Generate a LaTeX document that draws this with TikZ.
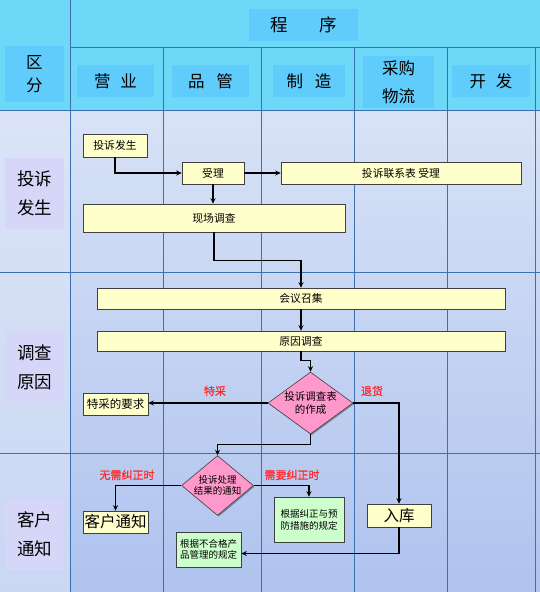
\documentclass[tikz,border=0pt]{standalone}
\usepackage{fontspec}
\newfontfamily\cjk{Noto Sans CJK SC}
\newfontfamily\cjkb[FakeBold=1]{Noto Sans CJK SC}
\usetikzlibrary{shapes.geometric,arrows.meta,shadows}
\definecolor{hdrbg}{HTML}{6ED8F8}
\definecolor{hdrbox}{HTML}{60CCFC}
\definecolor{gridc}{HTML}{3D70B0}
\definecolor{lavbox}{HTML}{D6D6F8}
\definecolor{ybg}{HTML}{FFFFCC}
\definecolor{gbg}{HTML}{CCFFCC}
\definecolor{pinkc}{HTML}{FF99CC}
\definecolor{redlbl}{HTML}{FF2A2A}
\definecolor{bodytop}{HTML}{D8E2F7}
\definecolor{bodybot}{HTML}{AFC3EE}
\definecolor{leftcol}{HTML}{DDE5F7}
\tikzset{
  fsz/.style={font=\cjk\fontsize{#1}{#1}\selectfont},
  hbox/.style={fill=hdrbox, inner sep=0, align=center, fsz=16.5},
  lbox/.style={fill=lavbox, inner sep=0, align=center, minimum width=59pt, minimum height=71pt, font=\cjk\fontsize{17.5}{29}\selectfont},
  boxbase/.style={draw=black!75, line width=0.6pt, inner sep=0, align=center,
    drop shadow={shadow xshift=1.2pt, shadow yshift=-1.2pt, fill=black, opacity=0.35}},
  ybox/.style={boxbase, fill=ybg, fsz=10.8},
  gbox/.style={boxbase, fill=gbg},
  dbox/.style={boxbase, diamond, fill=pinkc},
  gline/.style={draw=gridc, line width=0.8pt},
  conn/.style={draw=black, line width=1.1pt, -{Stealth[length=5.5pt,width=5pt]}},
  rlbl/.style={text=redlbl, font=\cjkb\fontsize{11}{12}\selectfont, inner sep=0},
}
\begin{document}
\begin{tikzpicture}[x=1pt,y=-1pt]
\useasboundingbox (0,0) rectangle (540,592);
% backgrounds
\fill[hdrbg] (0,0) rectangle (540,110);
\shade[top color=bodytop, bottom color=bodybot] (0,110) rectangle (540,592);
\fill[leftcol, opacity=0.6] (0,110) rectangle (70,592);
% grid
\draw[gline] (70,0) -- (70,592);
\draw[gline] (70,47) -- (540,47);
\draw[gline] (0,110) -- (540,110);
\foreach \x in {163,261,354,447,535} \draw[gline] (\x,47) -- (\x,592);
\draw[gline] (0,272) -- (540,272);
\draw[gline] (0,453) -- (540,453);
% header boxes
\node[hbox, minimum width=59pt, minimum height=56pt, font=\cjk\fontsize{16.5}{23.5}\selectfont] (hqf) at (34.5,74) {区\\分};
\node[hbox, minimum width=109pt, minimum height=32pt, fsz=17.5] (hcx) at (303.5,25) {程\hspace{1.8em}序};
\node[hbox, minimum width=77pt, minimum height=32pt] (hyy) at (115.5,81) {营\hspace{0.6em}业};
\node[hbox, minimum width=77pt, minimum height=32pt] (hpg) at (210.5,81) {品\hspace{0.7em}管};
\node[hbox, minimum width=72pt, minimum height=32pt] (hzz) at (309,81) {制\hspace{0.7em}造};
\node[hbox, minimum width=71pt, minimum height=52pt, font=\cjk\fontsize{16.5}{28}\selectfont] (hcg) at (398.5,82) {采购\\物流};
\node[hbox, minimum width=78pt, minimum height=32pt] (hkf) at (491,81) {开\hspace{0.6em}发};
% left labels
\node[lbox] (l1) at (34.5,193.5) {投诉\\发生};
\node[lbox] (l2) at (34.5,367.5) {调查\\原因};
\node[lbox] (l3) at (34.5,534) {客户\\通知};
% flow nodes
\node[ybox, minimum width=64pt, minimum height=23pt] (fs) at (115,145.5) {投诉发生};
\node[ybox, minimum width=62pt, minimum height=22pt] (sl) at (213,173) {受理};
\node[ybox, minimum width=240pt, minimum height=22pt] (lxb) at (401,173) {投诉联系表\ 受理};
\node[ybox, minimum width=262pt, minimum height=28pt] (xc) at (214,218) {现场调查};
\node[ybox, minimum width=408pt, minimum height=21pt] (hy) at (301,298.5) {会议召集};
\node[ybox, minimum width=408pt, minimum height=20pt] (yy) at (301,341) {原因调查};
\node[dbox, minimum width=85pt, minimum height=62pt, aspect=1.37, font=\cjk\fontsize{10.5}{12.5}\selectfont] (d1) at (310.5,403) {投诉调查表\\的作成};
\node[ybox, minimum width=65pt, minimum height=22pt, fsz=11.5] (tc) at (115.5,404) {特采的要求};
\node[dbox, minimum width=69pt, minimum height=58pt, aspect=1.2, font=\cjk\fontsize{9.5}{11.5}\selectfont] (d2) at (217.5,485.5) {投诉处理\\结果的通知};
\node[ybox, minimum width=65pt, minimum height=22pt, fsz=15.5] (kh) at (115.5,522) {客户通知};
\node[gbox, minimum width=70pt, minimum height=45pt, font=\cjk\fontsize{9.5}{12}\selectfont] (g1) at (309,519.5) {根据纠正与预\\防措施的规定};
\node[ybox, minimum width=64pt, minimum height=23pt, fsz=15.5] (rk) at (399,515.5) {入库};
\node[gbox, minimum width=65pt, minimum height=35pt, font=\cjk\fontsize{9.5}{11.5}\selectfont] (g2) at (208.5,549.5) {根据不合格产\\品管理的规定};
% labels
\node[rlbl] (lt) at (215,391) {特采};
\node[rlbl] (lth) at (372,391) {退货};
\node[rlbl] (lwx) at (127,475) {无需纠正时};
\node[rlbl] (lxy) at (292,475) {需要纠正时};
% connectors
\draw[conn] (fs.south) |- (sl.west);
\draw[conn] (sl.east) -- (lxb.west);
\draw[conn] (sl.south) -- (sl.south |- xc.north);
\draw[conn] (xc.south) -- ++(0,28) -| (hy.north);
\draw[conn] (hy.south) -- (yy.north);
\draw[conn] (yy.south) -- ++(0,9) -| (d1.north);
\draw[conn] (d1.west) -- (d1.west -| tc.east);
\draw[conn] (d1.east) -| (rk.north);
\draw[conn] (d1.south) -- ++(0,10) -| (d2.north);
\draw[conn] (d2.west) -| (kh.north);
\draw[conn] (d2.east) -| (g1.north);
\draw[conn] (rk.south) |- ([yshift=-4pt]g2.east);
\end{tikzpicture}
\end{document}
